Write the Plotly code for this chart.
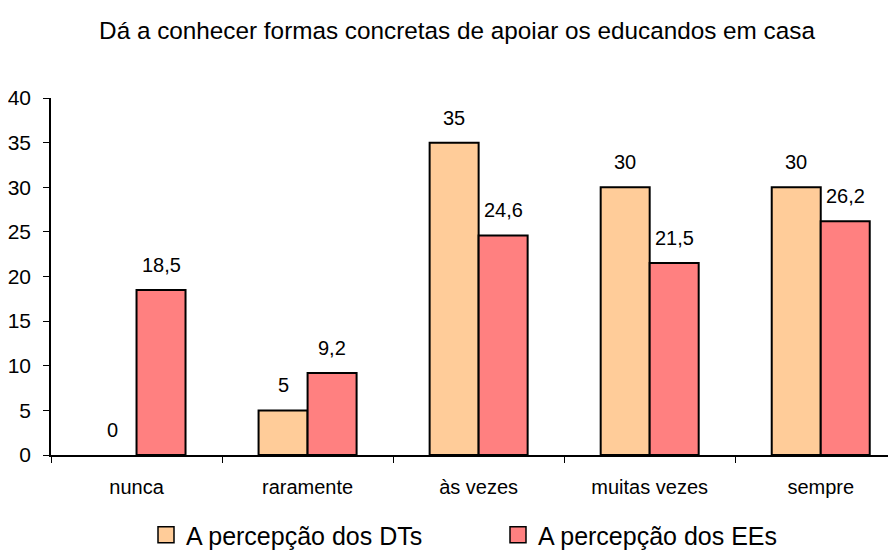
import plotly.graph_objects as go

categories = ["nunca", "raramente", "às vezes", "muitas vezes", "sempre"]
dts = [0, 5, 35, 30, 30]
ees = [18.5, 9.2, 24.6, 21.5, 26.2]
dts_labels = ["0", "5", "35", "30", "30"]
ees_labels = ["18,5", "9,2", "24,6", "21,5", "26,2"]
y_ticks = [0, 5, 10, 15, 20, 25, 30, 35, 40]

FONT = "Liberation Sans, Arial, sans-serif"
C_DT = "#FFCC99"
C_EE = "#FF8080"

W, H = 888, 551

dts_line_w = [0 if v == 0 else 2 for v in dts]

fig = go.Figure()
fig.add_trace(go.Bar(x=categories, y=dts, name="A percepção dos DTs", showlegend=False,
                     marker=dict(color=C_DT, line=dict(color="black", width=dts_line_w))))
fig.add_trace(go.Bar(x=categories, y=ees, name="A percepção dos EEs", showlegend=False,
                     marker=dict(color=C_EE, line=dict(color="black", width=2))))
# legend-only entries with larger square swatches
for name, col in [("A percepção dos DTs", C_DT), ("A percepção dos EEs", C_EE)]:
    fig.add_trace(go.Scatter(x=[None], y=[None], mode="markers", name=name,
                             marker=dict(symbol="square", size=17, color=col,
                                         line=dict(color="black", width=1.5))))

for c, v, t in zip(categories, dts, dts_labels):
    fig.add_annotation(x=c, y=v, text=t, showarrow=False, xshift=-24.5, yshift=25,
                       font=dict(size=20, color="black", family=FONT))
for c, v, t in zip(categories, ees, ees_labels):
    fig.add_annotation(x=c, y=v, text=t, showarrow=False, xshift=24.5, yshift=25,
                       font=dict(size=20, color="black", family=FONT))

fig.update_layout(
    width=W, height=H,
    margin=dict(l=43, r=0, t=90, b=104),
    paper_bgcolor="white", plot_bgcolor="white",
    font=dict(family=FONT, size=20, color="black"),
    title=dict(text="Dá a conhecer formas concretas de apoiar os educandos em casa",
               x=449 / W, xanchor="center", xref="container", y=1 - 22 / H, yanchor="middle",
               yref="container", font=dict(size=24.3, family=FONT, color="black")),
    barmode="group", bargap=0.427, bargroupgap=0,
    showlegend=True,
    legend=dict(orientation="h", x=138 / W, xanchor="left", xref="container",
                y=(H - 527) / H, yanchor="middle", yref="container",
                font=dict(size=25, family=FONT), itemwidth=30, traceorder="normal",
                entrywidth=307, entrywidthmode="pixels"),
    xaxis=dict(type="category", range=[-0.5, 4.44], showline=True, linecolor="black", linewidth=1.5,
               ticks="outside", tickson="boundaries", ticklen=6, tickcolor="black",
               showgrid=False, tickfont=dict(size=20), automargin=False, ticklabelstandoff=13),
    yaxis=dict(range=[0, 40], tickvals=y_ticks, showline=True, linecolor="black", linewidth=1.5,
               ticks="outside", ticklen=6, tickcolor="black", showgrid=False, zeroline=False,
               tickfont=dict(size=21), automargin=False, ticklabelstandoff=8),
)

fig.write_html("out.html")
